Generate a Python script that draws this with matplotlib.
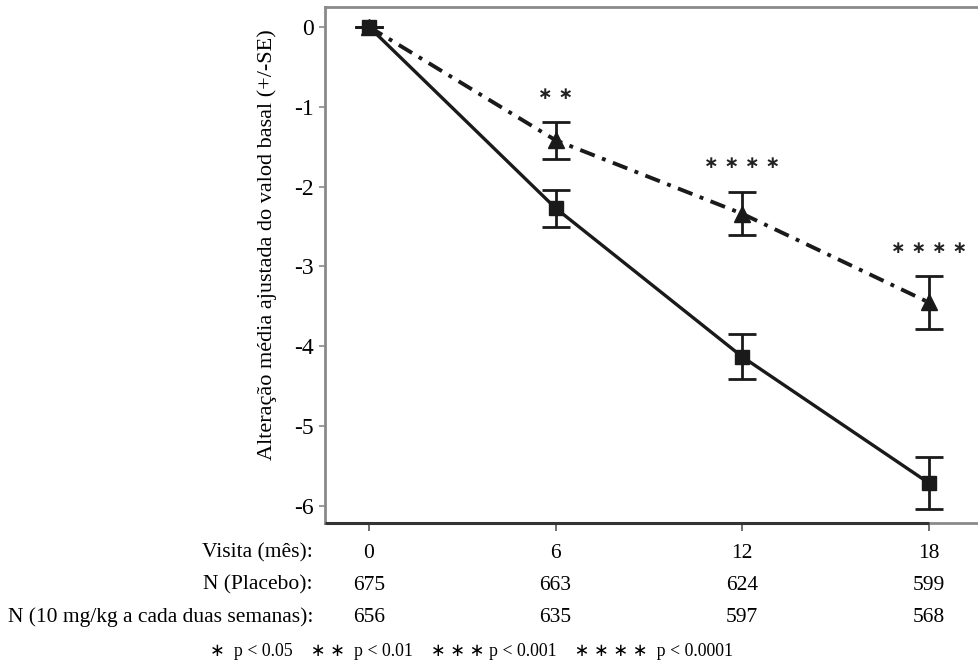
import numpy as np
import matplotlib.pyplot as plt
import matplotlib.transforms as mtransforms

plt.rcParams['font.family'] = ['Liberation Serif', 'DejaVu Serif']

# data
visits = [0, 6, 12, 18]
placebo_mean = [0.0, -2.27, -4.13, -5.71]
placebo_se = [0.0, 0.23, 0.28, 0.33]
treat_mean = [0.0, -1.42, -2.34, -3.45]
treat_se = [0.0, 0.23, 0.27, 0.33]
stars = ['', '∗ ∗', '∗ ∗ ∗ ∗', '∗ ∗ ∗ ∗']
star_y = [None, -0.84, -1.71, -2.77]
n_placebo = [675, 663, 624, 599]
n_treat = [656, 635, 597, 568]
row_labels = ['Visita (mês):', 'N (Placebo):', 'N (10 mg/kg a cada duas semanas):']
footnote = '∗  p < 0.05    ∗ ∗  p < 0.01    ∗ ∗ ∗ p < 0.001    ∗ ∗ ∗ ∗  p < 0.0001'

fig = plt.figure(figsize=(9.79, 6.65), dpi=100)
ax = fig.add_axes([0.332, 0.2135, 0.668, 0.776])

gray = '#8a8a8a'
ax.errorbar(visits, placebo_mean, yerr=placebo_se, color='#1a1a1a', lw=2.4,
            marker='s', markersize=10, capsize=10, elinewidth=2, capthick=2, zorder=3)
ax.errorbar(visits, treat_mean, yerr=treat_se, color='#1a1a1a', lw=2.8,
            dashes=(4, 2, 1, 2), marker='^', markersize=11, capsize=10,
            elinewidth=2, capthick=2, zorder=3)

for x, s, y in zip(visits, stars, star_y):
    if s:
        ax.text(x, y, s, ha='center', va='center', fontsize=12.5, color='#222222',
                family='DejaVu Sans', fontweight='bold')

ax.set_xlim(-1.41, 19.61)
ax.set_ylim(-6.21, 0.247)
ax.set_yticks(range(-6, 1))
ax.set_yticklabels([str(v) for v in range(-6, 1)], fontsize=17)
ax.set_xticks(visits)
ax.set_xticklabels([])
ax.tick_params(axis='y', direction='out', length=4, width=1.2, color=gray, pad=4)
ax.tick_params(axis='x', direction='out', length=6, width=1.2, color='#555555')

for side in ['left', 'top', 'bottom']:
    ax.spines[side].set_color(gray)
    ax.spines[side].set_linewidth(2)
ax.spines['right'].set_visible(False)

# darker base line from left edge to the last visit
ax.plot([-1.41, visits[-1]], [-6.21, -6.21], color='#333333', lw=2.2,
        clip_on=False, zorder=4, solid_capstyle='butt')

fig.text(267 / 979, 1 - 245 / 665, 'Alteração média ajustada do valod basal (+/-SE)',
         rotation=90, ha='center', va='center', fontsize=16)

trans = mtransforms.blended_transform_factory(ax.transData, fig.transFigure)
row_y = [1 - 553 / 665, 1 - 585 / 665, 1 - 617 / 665]
rows = [visits, n_placebo, n_treat]
for lab, yy, vals in zip(row_labels, row_y, rows):
    fig.text(313 / 979, yy, lab, ha='right', va='center', fontsize=15.5)
    for x, v in zip(visits, vals):
        ax.text(x, yy, str(v), transform=trans, ha='center', va='center', fontsize=15.5)

fig.text(472 / 979, 1 - 651 / 665, footnote, ha='center', va='center', fontsize=12.8,
         family=['Liberation Serif', 'DejaVu Sans'])

fig.savefig('out.png', dpi=100)
